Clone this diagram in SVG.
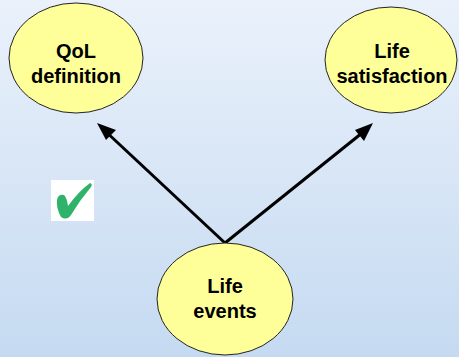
<svg xmlns="http://www.w3.org/2000/svg" width="459" height="357" viewBox="0 0 459 357">
<defs>
<linearGradient id="bg" x1="0" y1="0" x2="0" y2="1">
<stop offset="0" stop-color="#eaf1fb"/>
<stop offset="1" stop-color="#c5daf1"/>
</linearGradient>
</defs>
<style>
.node{fill:#ffff99;stroke:#222;stroke-width:1}
.lbl{font-family:"Liberation Sans",Arial,sans-serif;font-weight:bold;font-size:20px;text-anchor:middle;fill:#000}
.conn{stroke:#000;stroke-width:3;fill:none}
</style>
<rect width="459" height="357" fill="url(#bg)"/>
<g id="connectors">
<line class="conn" x1="225" y1="243" x2="103" y2="129"/>
<path d="M97,123 L116,130 L106,140 z" fill="#000"/>
<line class="conn" x1="225" y1="243" x2="367" y2="129"/>
<path d="M373,123 L364,141 L355,130 z" fill="#000"/>
</g>
<g id="qol">
<ellipse class="node" cx="76" cy="58" rx="67" ry="55"/>
<text class="lbl" x="76" y="58">QoL</text>
<text class="lbl" x="76" y="83">definition</text>
</g>
<g id="satisfaction">
<ellipse class="node" cx="391" cy="60" rx="66" ry="53"/>
<text class="lbl" x="392" y="58">Life</text>
<text class="lbl" x="392" y="83">satisfaction</text>
</g>
<g id="events">
<ellipse class="node" cx="225" cy="299" rx="68" ry="56"/>
<text class="lbl" x="225" y="293">Life</text>
<text class="lbl" x="225" y="318">events</text>
</g>
<g id="check">
<rect x="51" y="180" width="43" height="41" fill="#fff"/>
<path d="M57,200 Q58,194 64,195 Q67,198 68,206 Q78,192 90,183 Q93,184 91,187 Q80,200 71,215 Q67,221 61,217 Q56,208 57,200 z" fill="#2fb36a"/>
</g>
</svg>
